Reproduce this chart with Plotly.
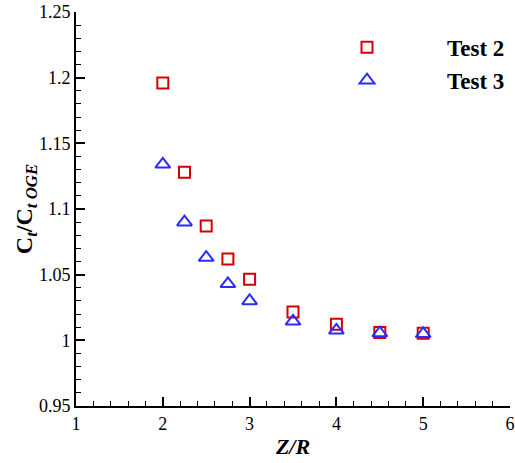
import plotly.graph_objects as go

x_vals = [2, 2.25, 2.5, 2.75, 3, 3.5, 4, 4.5, 5]
test2 = [1.196, 1.128, 1.087, 1.062, 1.0465, 1.0215, 1.0122, 1.006, 1.0053]
test3 = [1.134, 1.090, 1.063, 1.043, 1.030, 1.0145, 1.0076, 1.0055, 1.005]

FONT = "Liberation Serif"

fig = go.Figure()
fig.add_trace(go.Scatter(
    x=x_vals, y=test2, mode="markers", name="<b>Test 2</b>",
    marker=dict(symbol="square-open", size=11, color="#d40000",
                line=dict(width=2, color="#d40000"))))
fig.add_trace(go.Scatter(
    x=x_vals, y=test3, mode="markers", name="<b>Test 3</b>",
    marker=dict(symbol="triangle-up-open", size=13, color="#2b2bff",
                line=dict(width=2, color="#2b2bff"))))

axis_common = dict(
    showgrid=False, zeroline=False, showline=True, linecolor="black", linewidth=2,
    ticks="inside", ticklen=9, tickwidth=2, tickcolor="black",
    tickfont=dict(family=FONT, size=18, color="black"),
    mirror=False, automargin=False,
)
fig.update_xaxes(range=[1, 6], dtick=1, tick0=1,
                 minor=dict(dtick=0.2, ticks="inside", ticklen=5, tickwidth=1, tickcolor="black"),
                 title=dict(text="<b><i>Z/R</i></b>", font=dict(family=FONT, size=22, color="black"), standoff=6),
                 **axis_common)
fig.update_yaxes(range=[0.95, 1.25], tickvals=[0.95, 1.0, 1.05, 1.1, 1.15, 1.2, 1.25],
                 ticktext=["0.95", "1", "1.05", "1.1", "1.15", "1.2", "1.25"],
                 minor=dict(dtick=0.01, tick0=0.95, ticks="inside", ticklen=5, tickwidth=1, tickcolor="black"),
                 title=dict(text="<b>C<sub><i>t</i></sub>/C<sub><i>t OGE</i></sub></b>",
                            font=dict(family=FONT, size=24, color="black"), standoff=0),
                 **axis_common)

fig.update_layout(
    width=515, height=463,
    margin=dict(l=76, r=5, t=12, b=57, autoexpand=False),
    plot_bgcolor="white", paper_bgcolor="white",
    font=dict(family=FONT, color="black"),
    showlegend=True,
    legend=dict(x=1.0, y=0.965, xanchor="right", yanchor="top",
                font=dict(family=FONT, size=23, color="black"),
                itemwidth=150, bgcolor="rgba(0,0,0,0)", tracegroupgap=0),
)

fig.write_html("out.html")
